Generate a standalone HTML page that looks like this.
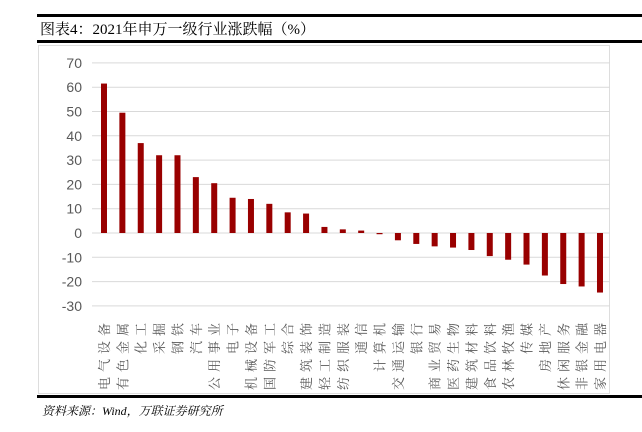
<!DOCTYPE html>
<html><head><meta charset="utf-8">
<style>
body{margin:0;background:#fff;width:642px;height:432px;overflow:hidden;position:relative;font-family:"Liberation Serif","Noto Serif CJK SC",serif;}
.line{position:absolute;left:37px;right:0;background:#000;}
#title{position:absolute;left:40px;top:18px;font-size:15px;color:#000;}
#box{position:absolute;left:38px;top:45px;width:572px;height:349px;border:1px solid #ddd;box-sizing:border-box;}
#src{position:absolute;left:42px;top:402px;font-size:12px;font-style:italic;}
</style></head><body>
<div class="line" style="top:14px;height:3px"></div>
<div id="title">图表4：2021年申万一级行业涨跌幅（%）</div>
<div class="line" style="top:40px;height:3px"></div>
<div id="box"></div>
<svg id="chart" width="642" height="432" style="position:absolute;left:0;top:0"></svg>
<div class="line" style="top:395px;height:3px"></div>
<div id="src">资料来源：Wind，万联证券研究所</div>
<script>
const categories=["电气设备","有色金属","化工","采掘","钢铁","汽车","公用事业","电子","机械设备","国防军工","综合","建筑装饰","轻工制造","纺织服装","通信","计算机","交通运输","银行","商业贸易","医药生物","建筑材料","食品饮料","农林牧渔","传媒","房地产","休闲服务","非银金融","家用电器"];
const values=[61.5,49.5,37,32,32,23,20.5,14.5,14,12,8.5,8,2.5,1.5,1,-0.5,-3,-4.5,-5.5,-6,-7,-9.5,-11,-13,-17.5,-21,-22,-24.5];
const ticks=[70,60,50,40,30,20,10,0,-10,-20,-30];
const NS="http://www.w3.org/2000/svg";
const svg=document.getElementById('chart');
const y=v=>233-(v*24.3/10);
const x=i=>104+i*18.37;
function mk(t,a){const e=document.createElementNS(NS,t);for(const k in a)e.setAttribute(k,a[k]);svg.appendChild(e);return e;}
ticks.forEach(t=>{
  const g=mk('line',{x1:92,x2:610,y1:y(t),y2:y(t),stroke:'#d9d9d9','stroke-width':1});
  
  
  const l=mk('text',{x:82,y:y(t)+5,'text-anchor':'end','font-size':14,fill:'#595959','font-family':'Liberation Sans, sans-serif'});
  l.textContent=t;
  
  
});
values.forEach((v,i)=>{
  const b=mk('rect',{x:x(i)-3,y:Math.min(y(v),y(0)),width:6,height:Math.abs(y(v)-y(0)),fill:'#990000'});
  
  
  const t=mk('text',{transform:`translate(${x(i)+5},318) rotate(-90)`,'text-anchor':'end','font-size':13,'letter-spacing':5,fill:'#595959','font-family':'Noto Serif CJK SC, serif'});
  t.textContent=categories[i];
  
  
});
</script>
</body></html>
